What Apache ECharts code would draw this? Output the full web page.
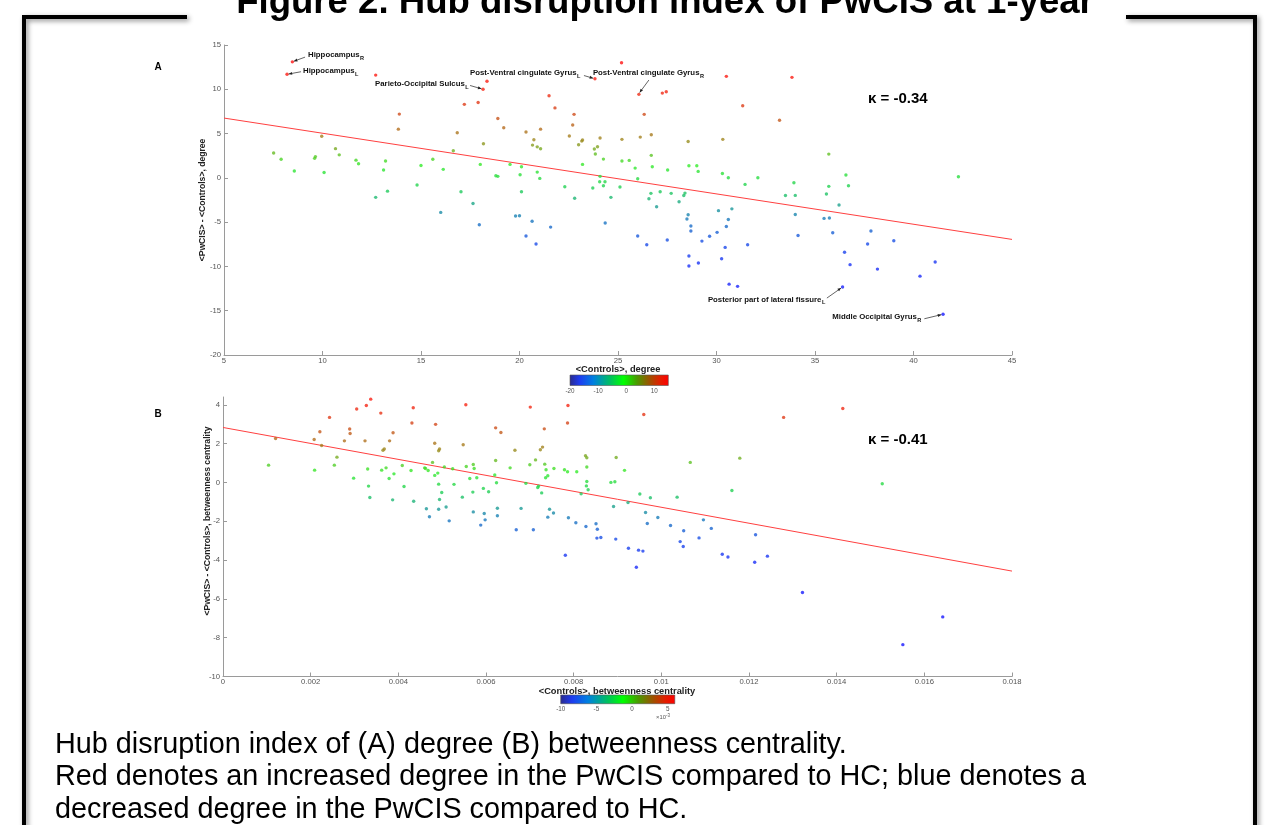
<!DOCTYPE html>
<html><head><meta charset="utf-8">
<script src="https://cdn.jsdelivr.net/npm/echarts@6/dist/echarts.min.js"></script>
<style>html,body{margin:0;padding:0;background:#fff;}#c{width:1274px;height:825px;}</style>
</head><body><div id="c"></div>
<script>
// ---------- DATA ----------
// Panel A: <Controls> degree vs <PwCIS>-<Controls> degree
const degreeControls = [8.47,8.2,12.7,13.9,13.85,9.96,7.52,7.9,8.57,9.64,
9.6,10.08,10.66,10.85,11.7,11.83,13.1,13.2,13.3,12.7,
14.8,15.0,15.6,16.0,16.13,16.64,17.03,17.64,17.96,18.01,
18.8,18.9,18.35,18.15,17.2,17.9,18.9,19.2,16.84,18.17,
21.5,21.8,22.77,22.7,20.33,21.07,22.53,20.73,20.66,20.9,
21.07,23.2,23.16,23.0,24.09,23.8,23.96,23.85,24.26,23.2,
25.18,23.83,26.06,27.25,27.45,30.5,31.33,33.2,26.33,25.2,
26.13,26.69,28.56,30.32,26.69,25.2,25.57,25.87,26.74,27.52,
28.6,29.0,29.07,30.3,30.6,32.1,31.45,26.0,24.09,24.07,
24.34,24.26,23.72,25.1,22.3,22.8,24.64,26.67,27.14,27.7,
28.4,28.34,26.57,26.96,28.1,19.8,20.0,28.56,28.5,30.1,
30.78,30.6,19.52,20.1,20.03,20.1,20.64,20.33,20.84,21.58,
20.9,21.03,24.35,28.7,28.7,29.26,29.65,30.03,28.6,28.6,
29.08,26.0,26.46,27.5,33.93,33.5,34.0,36.57,35.7,36.7,
35.58,36.22,42.28,30.5,30.44,31.58,30.26,30.64,31.07,34.0,
34.14,35.46,35.73,35.9,37.84,37.67,39.0,36.5,36.78,38.17,
40.33,41.1,36.4,41.5,33.83,35.7];
const degreeDiff = [13.1,11.7,11.6,7.2,5.5,4.7,2.8,2.1,0.77,2.4,
2.2,0.6,3.3,2.6,2.0,1.6,0.88,1.9,-1.5,-2.2,
-0.8,1.4,2.1,-3.9,0.96,3.06,-1.57,-2.9,-5.3,1.52,
0.24,0.17,10.9,10.0,8.3,8.5,6.7,5.66,5.1,3.85,
9.27,7.9,7.17,5.96,5.17,5.5,4.72,4.3,3.7,3.5,
3.29,4.27,4.15,3.74,4.5,3.25,3.51,2.69,2.12,1.52,
13.0,11.19,9.43,9.57,9.72,11.46,8.14,6.5,7.17,4.35,
4.6,4.87,4.1,4.35,2.54,1.9,1.97,1.1,1.25,0.88,
1.37,1.37,0.73,0.5,0.01,0.01,-0.74,-0.1,0.17,-0.44,
-0.44,-0.89,-1.15,-1.04,-1.0,-2.3,-2.2,-1.75,-1.57,-1.75,
-1.72,-2.0,-2.36,-3.26,-2.7,-4.3,-4.28,-4.16,-4.65,-3.7,
-3.5,-4.7,1.52,1.25,0.35,-1.57,-4.9,-6.57,-7.47,-5.56,
0.65,-0.06,-5.1,-5.44,-6.0,-7.14,-6.6,-6.15,-8.83,-9.96,
-9.62,-6.57,-7.55,-7.02,-0.55,-2.0,-1.98,0.32,-0.96,-0.89,
-1.83,-3.07,0.13,-5.5,-7.85,-7.55,-9.13,-12.0,-12.25,-4.13,
-6.5,-4.58,-4.54,-6.2,-6.0,-7.47,-7.1,-8.4,-9.8,-10.3,
-11.1,-9.5,-12.33,-15.4,11.35,2.68];
const degreeFitX = [5, 45];
const degreeFitY = [6.75, -6.95];

// Panel B: <Controls> betweenness vs <PwCIS>-<Controls> betweenness
const btwControls = [0.00104,0.00120,0.00208,0.00209,0.00221,0.00225,0.00243,0.00254,0.00260,0.00277,
0.00289,0.00290,0.00305,0.00298,0.00324,0.00327,0.00337,0.00330,0.00332,0.00335,
0.00360,0.00362,0.00365,0.00368,0.00372,0.00380,0.00379,0.00388,0.00390,0.00387,
0.00409,0.00413,0.00431,0.00434,0.00429,0.00435,0.00460,0.00462,0.00468,0.00464,
0.00471,0.00478,0.00483,0.00485,0.00483,0.00490,0.00492,0.00494,0.00492,0.00494,
0.00492,0.00499,0.00505,0.00509,0.00516,0.00524,0.00527,0.00546,0.00548,0.00554,
0.00555,0.00563,0.00571,0.00573,0.00570,0.00571,0.00579,0.00588,0.00594,0.00596,
0.00598,0.00606,0.00622,0.00622,0.00620,0.00624,0.00626,0.00626,0.00701,0.00787,
0.00786,0.00960,0.01279,0.00634,0.00733,0.00666,0.00724,0.00729,0.00713,0.00700,
0.00827,0.00830,0.00897,0.01066,0.01179,0.00655,0.00734,0.00737,0.00755,0.00779,
0.00786,0.00807,0.00830,0.00916,0.00691,0.00718,0.00720,0.00727,0.00736,0.00741,
0.00830,0.00829,0.00833,0.00817,0.00885,0.00894,0.00891,0.00924,0.00951,0.00975,
0.01036,0.01161,0.00680,0.00669,0.00708,0.00745,0.00754,0.00741,0.00788,0.00805,
0.00828,0.00851,0.00854,0.00853,0.00862,0.00896,0.00925,0.00948,0.00958,0.00943,
0.00781,0.00964,0.00968,0.00992,0.01021,0.01043,0.01051,0.01050,0.01086,0.01096,
0.01114,0.01139,0.01152,0.01215,0.01213,0.01242,0.01414,0.01504,0.01322,0.01642,
0.01551];
const btwDiff = [0.89,2.26,2.21,0.63,2.61,1.9,3.35,0.89,1.3,2.14,
2.75,2.52,3.78,0.22,2.14,3.96,4.29,0.69,-0.19,-0.78,
3.57,0.63,1.66,1.72,0.75,2.14,0.2,2.56,0.44,-0.9,
0.87,-0.21,3.06,3.85,0.61,-0.97,0.75,0.72,0.61,-1.36,
-1.77,1.03,2.02,2.99,0.36,0.48,1.63,1.72,-0.09,-0.88,
-1.38,-0.52,0.8,-1.27,-1.98,0.7,-0.1,-0.76,1.94,4.0,
0.82,0.2,0.92,0.72,-0.5,-1.52,0.24,-2.2,-0.31,-1.6,
-1.93,-0.48,1.13,2.81,0.38,-0.02,-1.33,-1.72,3.88,3.96,
3.06,3.5,3.35,2.57,2.76,1.66,1.68,1.82,1.16,0.91,
1.37,1.27,1.28,1.03,1.25,0.75,0.94,0.65,0.72,0.65,
0.55,0.55,0.79,0.62,-0.05,-0.26,-0.19,-0.54,0.24,0.34,
0.05,-0.18,-0.38,-0.59,0.0,0.03,-1.24,-1.04,-0.6,-0.79,
-0.76,-0.42,-1.34,-2.44,-2.44,-1.38,-1.58,-1.79,-1.82,-2.08,
-2.27,-2.13,-2.41,-2.87,-2.84,-2.92,-3.39,-3.49,-3.54,-4.37,
-3.75,-1.55,-2.12,-1.81,-2.22,-3.05,-2.49,-3.3,-2.86,-1.93,
-2.37,-3.7,-3.84,-2.7,-4.11,-3.8,3.81,-0.07,-5.67,-6.93,
-8.36];
const btwFitX = [0, 0.018];
const btwFitY = [2.83, -4.57];

// Tick labels
const degreeXTicks = [5,10,15,20,25,30,35,40,45];
const degreeYTicks = [-20,-15,-10,-5,0,5,10,15];
const btwXTicks = [0,0.002,0.004,0.006,0.008,0.01,0.012,0.014,0.016,0.018];
const btwYTicks = [-10,-8,-6,-4,-2,0,2,4];
const cbarATicks = [-20,-10,0,10];
const cbarBTicks = [-10,-5,0,5];

// Texts
const titleText = 'Figure 2. Hub disruption index of PwCIS at 1-year';
const captionLines = ['Hub disruption index of (A) degree (B) betweenness centrality.',
  'Red denotes an increased degree in the PwCIS compared to HC; blue denotes a',
  'decreased degree in the PwCIS compared to HC.'];
const kappaA = 'κ = -0.34';
const kappaB = 'κ = -0.41';
// Annotated regions (index into panel A arrays)
const annotNames = ['Hippocampus','Hippocampus','Parieto-Occipital Sulcus','Post-Ventral cingulate Gyrus','Post-Ventral cingulate Gyrus','Posterior part of lateral fissure','Middle Occipital Gyrus'];
const annotSubs = ['R','L','L','L','R','L','R'];
const annotIdx = [0,1,33,61,62,162,163];

// ---------- LAYOUT / STYLE ----------
const FONT = '"Liberation Sans", Arial, Helvetica, sans-serif';
// offsets (px) relative to the annotated point: text left/center, arrow tail, arrow tip
const annotLayout = [
  {tx:15.7, ty:-6.7, ax:12.7, ay:-4.7, hx:1.5, hy:-0.6},
  {tx:16, ty:-3, ax:14, ay:-2.5, hx:1.6, hy:-0.2},
  {tx:-108, ty:-5.3, ax:-13, ay:-3.8, hx:-1.6, hy:-0.5},
  {tx:-125, ty:-5.4, ax:-11, ay:-3.2, hx:-1.8, hy:-0.5},
  {tx:-46, ty:-21.3, ax:10, ay:-14.3, hx:0.8, hy:-1.8},
  {tx:-134.7, ty:12.7, ax:-15.7, ay:11, hx:-1.5, hy:1},
  {tx:-110.7, ty:3, ax:-18.7, ay:4.5, hx:-1.8, hy:0.4}
];
const pointColors = ['#1818ff','#1a22fc','#1c30f8','#1c4ee8','#1c80b8','#20cc5c','#34ec2c','#a08820','#d04c1c','#f82414','#ff1414'];
const cbarStops = [[0,'#2b2b8c'],[0.1,'#1e3cf0'],[0.24,'#0080e0'],[0.41,'#00c060'],[0.545,'#00ff00'],[0.68,'#4a9a00'],[0.81,'#a05000'],[0.91,'#e02000'],[1,'#ff0000']];

const chart = echarts.init(document.getElementById('c'), null, {renderer:'canvas'});

function zip(a, b) { return a.map((v, i) => [v, b[i]]); }
function fmtNum(v) { return v === 0 ? '0' : String(+v.toFixed(4)); }
function mainAxis(gridIndex, min, max, interval, ticks, isY) {
  return {
    gridIndex, type:'value', min, max, interval,
    axisLine:{show:true, onZero:false, lineStyle:{color:'#9a9a9a', width:1}},
    axisTick:{show:true, inside:true, length:4, lineStyle:{color:'#9a9a9a'}, customValues:ticks},
    axisLabel:{color:'#555', fontSize:7.7, fontFamily:FONT, margin:isY ? 3 : 1.5, formatter:fmtNum, customValues:ticks},
    splitLine:{show:false}
  };
}
function cbarAxis(gridIndex, min, max, interval, ticks) {
  return {
    gridIndex, type:'value', min, max, interval,
    axisLine:{show:false}, axisTick:{show:false}, splitLine:{show:false},
    axisLabel:{color:'#555', fontSize:6.3, fontFamily:FONT, margin:2.5, customValues:ticks}
  };
}

const option = {
  animation:false,
  backgroundColor:'#ffffff',
  grid:[
    {left:224, top:45, width:788, height:310},
    {left:223, top:397, width:789, height:279.5},
    {left:570, top:375, width:98.3, height:10.5},
    {left:560.7, top:695, width:114.1, height:8.7}
  ],
  xAxis:[
    mainAxis(0, 5, 45, 5, degreeXTicks, false),
    mainAxis(1, 0, 0.018, 0.002, btwXTicks, false),
    cbarAxis(2, -20, 15, 10, cbarATicks),
    cbarAxis(3, -10, 6, 5, cbarBTicks)
  ],
  yAxis:[
    mainAxis(0, -20, 15, 5, degreeYTicks, true),
    mainAxis(1, -10, 4.4, 2, btwYTicks, true),
    {gridIndex:2, type:'value', show:false, min:0, max:1},
    {gridIndex:3, type:'value', show:false, min:0, max:1}
  ],
  visualMap:[
    {type:'continuous', show:false, seriesIndex:0, dimension:1, min:-16, max:13, inRange:{color:pointColors}},
    {type:'continuous', show:false, seriesIndex:2, dimension:1, min:-6.4, max:5.2, inRange:{color:pointColors}}
  ],
  series:[
    {type:'scatter', xAxisIndex:0, yAxisIndex:0, data:zip(degreeControls, degreeDiff), symbol:'circle', symbolSize:3.4, silent:true, z:3},
    {type:'line', xAxisIndex:0, yAxisIndex:0, data:zip(degreeFitX, degreeFitY), showSymbol:false, lineStyle:{color:'#ff4040', width:1}, silent:true, z:2},
    {type:'scatter', xAxisIndex:1, yAxisIndex:1, data:zip(btwControls, btwDiff), symbol:'circle', symbolSize:3.4, silent:true, z:3},
    {type:'line', xAxisIndex:1, yAxisIndex:1, data:zip(btwFitX, btwFitY), showSymbol:false, lineStyle:{color:'#ff4040', width:1}, silent:true, z:2}
  ]
};
chart.setOption(option);

// ---------- GRAPHIC ELEMENTS ----------
const mctx = document.createElement('canvas').getContext('2d');
function textWidth(t, size, bold) { mctx.font = (bold ? 'bold ' : '') + size + 'px ' + FONT; return mctx.measureText(t).width; }
function txt(x, y, t, size, opts) {
  opts = opts || {};
  return {type:'text', x, y, rotation:opts.rotation || 0, z:10, silent:true,
    style:{text:t, fill:opts.color || '#000', font:(opts.bold ? 'bold ' : '') + size + 'px ' + FONT,
      textAlign:opts.align || 'left', textVerticalAlign:opts.va || 'middle'}};
}
const g = [];
// frame with shadow
const frameStyle = {stroke:'#000', lineWidth:4, shadowBlur:5, shadowColor:'rgba(0,0,0,0.45)', shadowOffsetX:2, shadowOffsetY:2, lineCap:'square'};
g.push({type:'polyline', silent:true, z:1, shape:{points:[[185,17],[24,17],[24,830]]}, style:frameStyle});
g.push({type:'polyline', silent:true, z:1, shape:{points:[[1128,17],[1255,17],[1255,830]]}, style:frameStyle});
// title
g.push(txt(665, 3, titleText, 36.6, {bold:true, align:'center'}));
// panel letters
g.push(txt(158, 67, 'A', 10, {bold:true, align:'center'}));
g.push(txt(158, 414, 'B', 10, {bold:true, align:'center'}));
// kappa
g.push(txt(868, 99, kappaA, 15, {bold:true}));
g.push(txt(868, 440, kappaB, 15, {bold:true}));
// axis titles
g.push(txt(618, 369, '<Controls>, degree', 9.3, {bold:true, align:'center', color:'#222'}));
g.push(txt(203, 200, '<PwCIS> - <Controls>, degree', 8.6, {bold:true, align:'center', rotation:Math.PI/2, color:'#222'}));
g.push(txt(617, 691, '<Controls>, betweenness centrality', 9.3, {bold:true, align:'center', color:'#222'}));
g.push(txt(208, 521, '<PwCIS> - <Controls>, betweenness centrality', 8.6, {bold:true, align:'center', rotation:Math.PI/2, color:'#222'}));
// colorbars
function cbarRect(gi) {
  const r = chart.getModel().getComponent('grid', gi).coordinateSystem.getRect();
  return {type:'rect', silent:true, z:5, shape:{x:r.x, y:r.y, width:r.width, height:r.height},
    style:{fill:new echarts.graphic.LinearGradient(0,0,1,0, cbarStops.map(s => ({offset:s[0], color:s[1]}))), stroke:'#555', lineWidth:0.6}};
}
g.push(cbarRect(2));
g.push(cbarRect(3));
g.push({type:'text', x:663, y:717, z:10, silent:true, style:{text:'×10{s|-3}', fill:'#555', font:'5.8px ' + FONT, textAlign:'center', textVerticalAlign:'middle',
  rich:{s:{fontSize:4.5, fill:'#555', verticalAlign:'top', padding:[0,0,3,0]}}}});
// annotations
annotIdx.forEach((idx, i) => {
  const p = chart.convertToPixel({gridIndex:0}, [degreeControls[idx], degreeDiff[idx]]);
  const L = annotLayout[i];
  const tx = p[0] + L.tx, ty = p[1] + L.ty;
  const w = textWidth(annotNames[i], 7.8, true);
  g.push(txt(tx, ty, annotNames[i], 7.8, {bold:true, color:'#111'}));
  g.push(txt(tx + w + 0.5, ty + 3, annotSubs[i], 5.6, {bold:true, color:'#111'}));
  const ax = p[0] + L.ax, ay = p[1] + L.ay, hx = p[0] + L.hx, hy = p[1] + L.hy;
  g.push({type:'line', silent:true, z:9, shape:{x1:ax, y1:ay, x2:hx, y2:hy}, style:{stroke:'#222', lineWidth:0.7}});
  const ang = Math.atan2(hy - ay, hx - ax), hl = 3.5, hw = 1.5;
  const bx = hx - hl * Math.cos(ang), by = hy - hl * Math.sin(ang);
  g.push({type:'polygon', silent:true, z:9, shape:{points:[[hx,hy],[bx + hw*Math.sin(ang), by - hw*Math.cos(ang)],[bx - hw*Math.sin(ang), by + hw*Math.cos(ang)]]}, style:{fill:'#222'}});
});
// caption
captionLines.forEach((t, i) => g.push(txt(55, 745 + i * 32.5, t, 28.8)));
chart.setOption({graphic:g});
</script></body></html>
